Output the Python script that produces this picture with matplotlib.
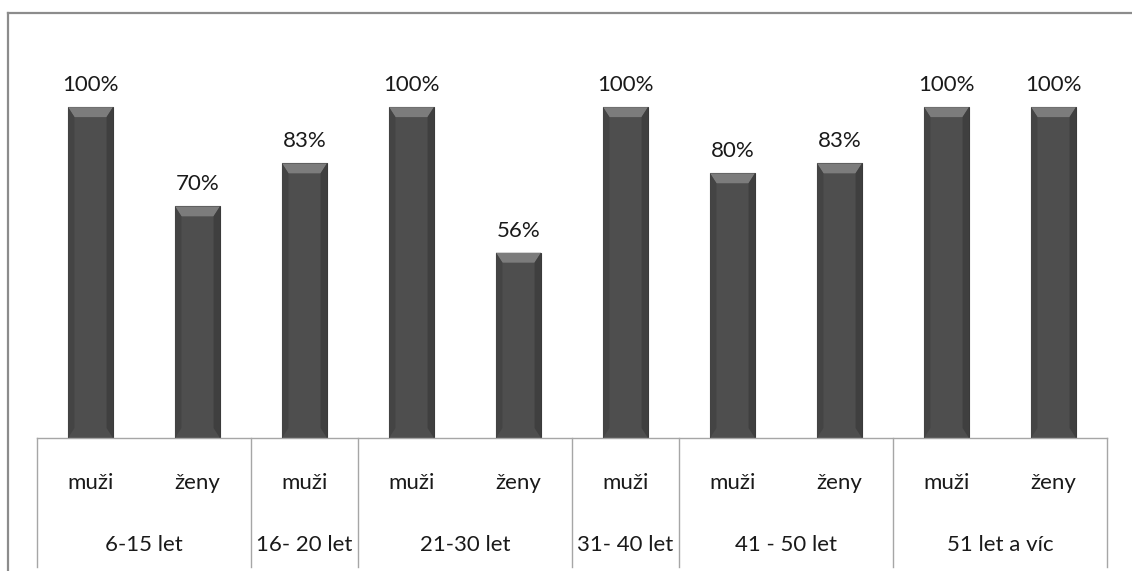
import matplotlib.pyplot as plt
from matplotlib.patches import Polygon
from matplotlib.lines import Line2D
import numpy as np

# data
groups = ['6-15 let', '16- 20 let', '21-30 let', '31- 40 let', '41 - 50 let', '51 let a víc']
group_sexes = [['muži', 'ženy'], ['muži'], ['muži', 'ženy'], ['muži'], ['muži', 'ženy'], ['muži', 'ženy']]
values = [100, 70, 83, 100, 56, 100, 80, 83, 100, 100]

plt.rcParams['font.family'] = ['Lato', 'DejaVu Sans']

W, H = 1132, 571
fig = plt.figure(figsize=(W / 100, H / 100), dpi=100)
ax = fig.add_axes([37 / W, (H - 438) / H, (1107 - 37) / W, (438 - 41) / H])

x = np.arange(len(values))
frac = np.array(values) / 100
bw = 0.42
bars = ax.bar(x, frac, width=bw, color='#4e4e4e', edgecolor='#3a3a3a', linewidth=0.8, zorder=2)

# bevel on top and sides of each bar
for b in bars:
    x0, x1, h = b.get_x(), b.get_x() + b.get_width(), b.get_height()
    d, dy = 0.06, 0.03
    ax.add_patch(Polygon([(x0, h), (x1, h), (x1 - d, h - dy), (x0 + d, h - dy)],
                         closed=True, color='#7c7c7c', lw=0, zorder=3))
    ax.add_patch(Polygon([(x0, h), (x0 + d, h - dy), (x0 + d, dy), (x0, 0)],
                         closed=True, color='#444444', lw=0, zorder=3))
    ax.add_patch(Polygon([(x1, h), (x1 - d, h - dy), (x1 - d, dy), (x1, 0)],
                         closed=True, color='#3f3f3f', lw=0, zorder=3))
    ax.annotate(f'{int(round(h * 100))}%', (b.get_x() + b.get_width() / 2, h),
                xytext=(0, 16), textcoords='offset pixels', ha='center', va='baseline',
                fontsize=16, color='#1a1a1a')

ax.set_xlim(-0.5, len(values) - 0.5)
ax.set_ylim(0, 1.2)
ax.set_xticks([])
ax.set_yticks([])
for s in ['left', 'right', 'top']:
    ax.spines[s].set_visible(False)
ax.spines['bottom'].set_color('#a6a6a6')
ax.spines['bottom'].set_linewidth(1)

# two-level category table under the axis
ah = 438 - 41
trans = ax.get_xaxis_transform()
line_bottom = -(567 - 438) / ah
pos = 0
ax.plot([-0.5, -0.5], [0, line_bottom], transform=trans, color='#a6a6a6', lw=1, clip_on=False)
for g, sexes in zip(groups, group_sexes):
    for i, s in enumerate(sexes):
        ax.text(pos + i, -(483 - 438) / ah, s, transform=trans, ha='center', va='center',
                fontsize=16, color='#1a1a1a')
    mid = pos + (len(sexes) - 1) / 2
    ax.text(mid, -(545 - 438) / ah, g, transform=trans, ha='center', va='center',
            fontsize=16, color='#1a1a1a')
    pos += len(sexes)
    ax.plot([pos - 0.5, pos - 0.5], [0, line_bottom], transform=trans, color='#a6a6a6',
            lw=1, clip_on=False)

# outer chart border
bc = '#8c8c8c'
fig.add_artist(Line2D([8 / W, 1.01], [1 - 13 / H, 1 - 13 / H], transform=fig.transFigure, color=bc, lw=1.6))
fig.add_artist(Line2D([8 / W, 8 / W], [1 - 13 / H, -0.01], transform=fig.transFigure, color=bc, lw=1.6))

fig.savefig('out.png', dpi=100)
